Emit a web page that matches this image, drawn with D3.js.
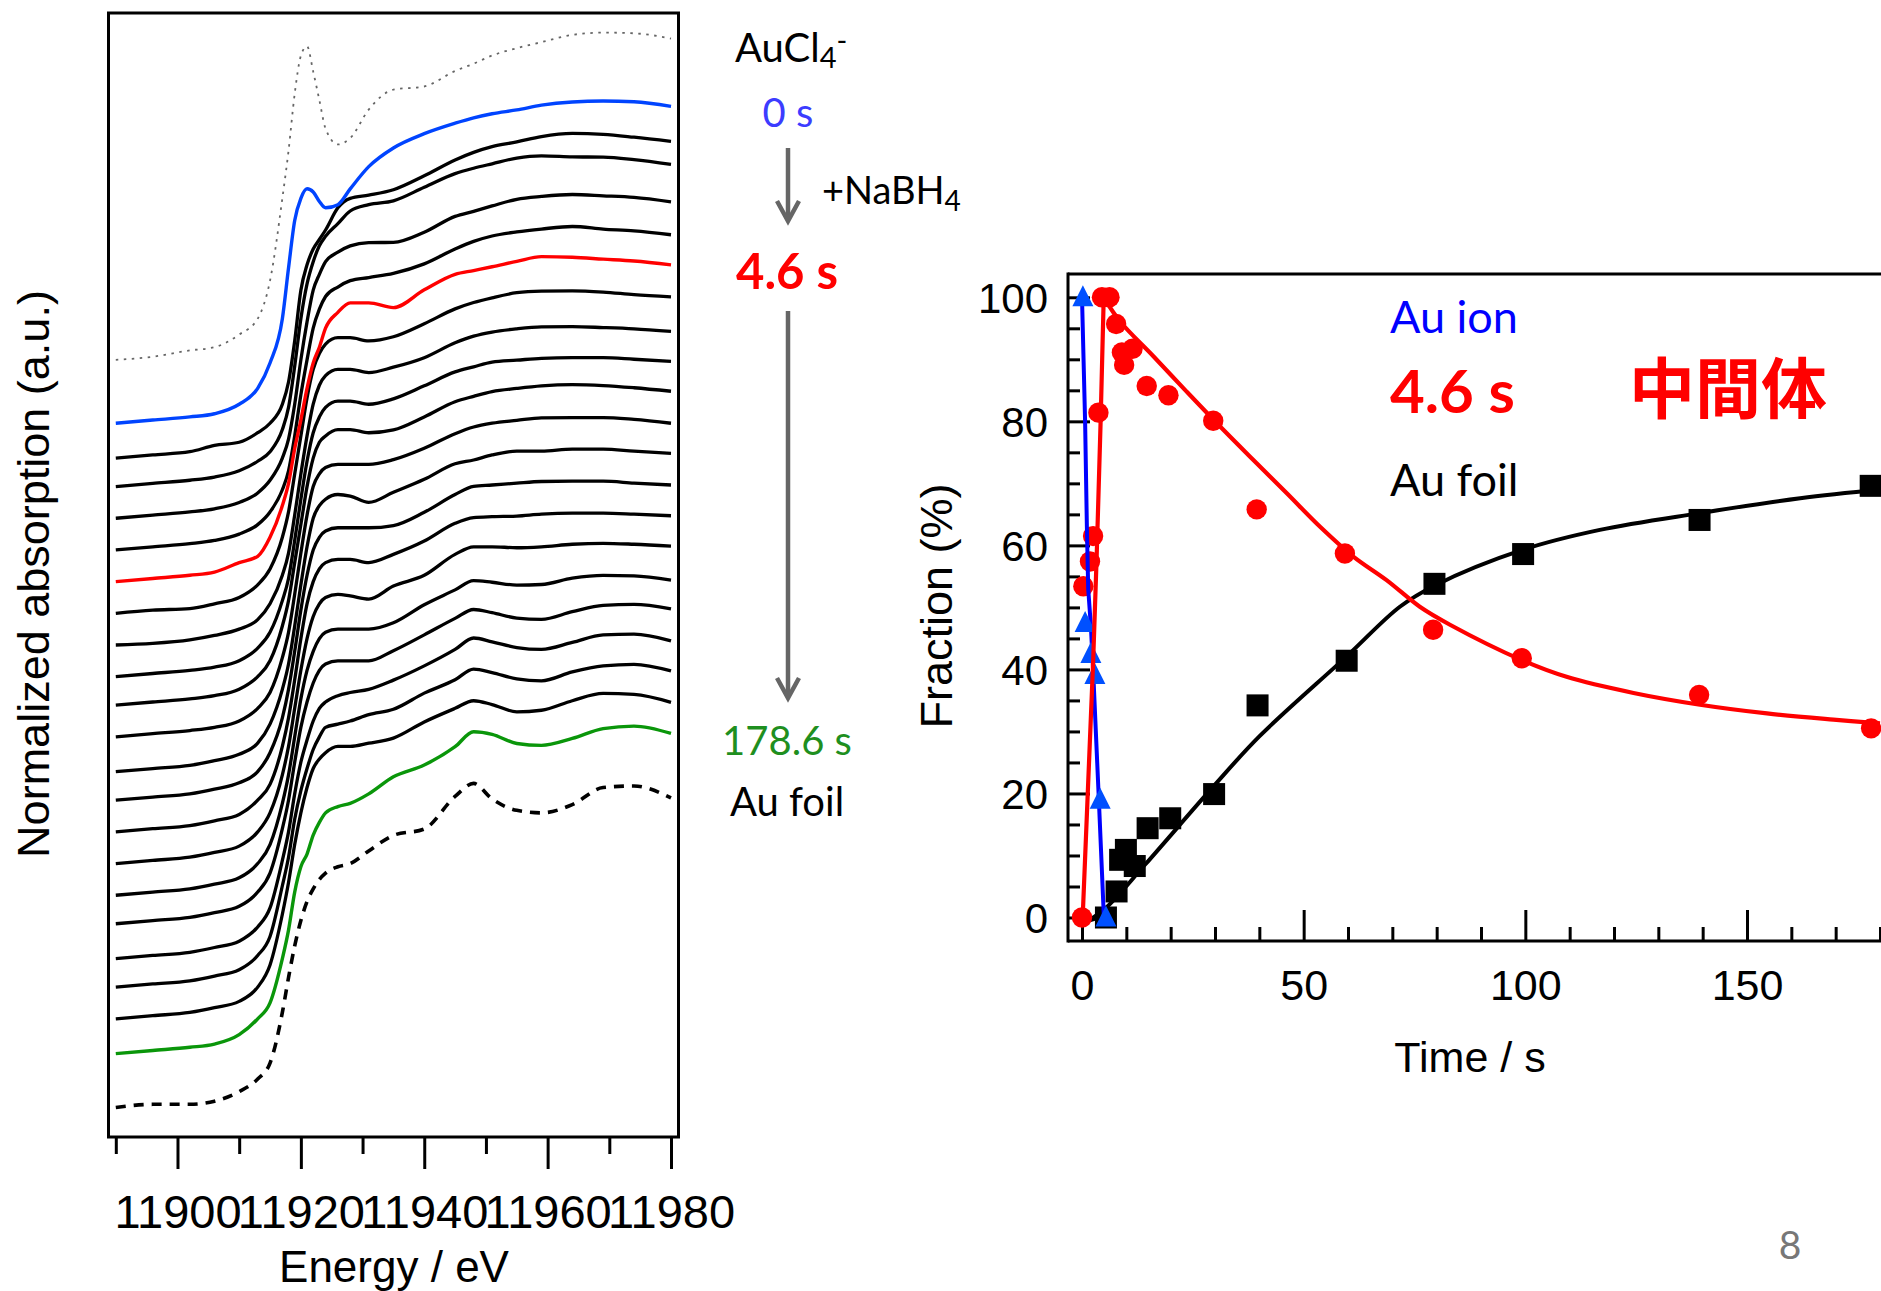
<!DOCTYPE html>
<html>
<head>
<meta charset="utf-8">
<script src="https://cdn.jsdelivr.net/npm/d3@7"></script>
<style>
  html, body { margin: 0; padding: 0; background: #fff; overflow: hidden; }
  svg { display: block; }
</style>
</head>
<body>
<svg id="fig" width="1881" height="1291"></svg>
<script>
// ---------------------------------------------------------------
// Au L3-edge XANES during NaBH4 reduction + species fractions
// ---------------------------------------------------------------

// Energy grid shared by all spectra (eV)
const energy = [11890, 11896, 11902, 11906, 11910, 11913, 11915, 11917, 11918, 11919,
                11920, 11921, 11922, 11923, 11924, 11926, 11928, 11931, 11935, 11940,
                11945, 11948, 11951, 11955, 11959, 11964, 11969, 11974, 11980];

// Normalized absorption of each spectrum (edge jump = 1)
const refAuCl4 = [0, .01, .03, .04, .08, .13, .25, .51, .66, .84, .96, .99, .91, .82, .73, .68, .70, .79, .853, .863, .912, .935, .961, .984, 1.003, 1.026, 1.033, 1.031, 1.014];
const spec00 = [0, .01, .02, .03, .06, .11, .19, .33, .49, .64, .71, .74, .73, .70, .68, .69, .74, .81, .869, .914, .947, .964, .977, .989, 1.004, 1.014, 1.017, 1.015, 1.0];
const spec01 = [0, .01, .02, .04, .05, .08, .11, .17, .24, .37, .53, .61, .66, .69, .72, .79, .82, .83, .847, .891, .941, .965, .983, .998, 1.015, 1.025, 1.022, 1.013, 1.0];
const spec02 = [0, .01, .02, .03, .05, .08, .11, .18, .25, .38, .53, .64, .71, .76, .79, .83, .87, .89, .902, .945, .988, 1.005, 1.019, 1.037, 1.044, 1.041, 1.040, 1.032, 1.017];
const spec03 = [0, .01, .02, .03, .05, .08, .12, .19, .25, .36, .50, .62, .72, .77, .81, .84, .86, .87, .871, .903, .953, .969, .986, 1.007, 1.016, 1.022, 1.018, 1.013, .999];
const spec04 = [0, .01, .02, .03, .05, .08, .12, .19, .25, .36, .49, .60, .70, .76, .80, .83, .85, .86, .873, .903, .950, .974, .991, 1.004, 1.013, 1.021, 1.013, 1.007, .995];
const spec05 = [0, .01, .02, .03, .06, .08, .14, .24, .31, .42, .51, .61, .69, .74, .80, .85, .88, .88, .865, .921, .970, .982, .994, 1.011, 1.026, 1.024, 1.018, 1.012, 1.0];
const spec06 = [0, .01, .015, .03, .05, .09, .14, .24, .32, .44, .56, .68, .77, .82, .85, .87, .87, .86, .873, .914, .961, .981, .996, 1.012, 1.017, 1.018, 1.014, 1.006, .999];
const spec07 = [0, .005, .016, .03, .05, .08, .13, .22, .29, .41, .54, .66, .76, .82, .85, .87, .87, .86, .877, .907, .954, .975, .988, .998, 1.004, 1.005, 1.002, .998, .990];
const spec08 = [0, .01, .02, .03, .05, .09, .14, .24, .31, .43, .56, .68, .77, .82, .85, .87, .87, .86, .877, .918, .962, .978, .993, .999, 1.005, 1.007, 1.007, 1.002, .995];
const spec09 = [0, .01, .02, .03, .05, .09, .14, .25, .33, .45, .57, .69, .78, .83, .85, .87, .87, .86, .869, .910, .958, .975, .990, 1.000, 1.008, 1.012, 1.009, 1.002, .991];
const spec10 = [0, .01, .02, .03, .05, .09, .14, .25, .33, .45, .58, .70, .79, .83, .85, .86, .86, .86, .875, .911, .957, .978, .990, .999, 1.007, 1.008, 1.008, 1.002, .990];
const spec11 = [0, .01, .02, .035, .055, .09, .15, .26, .34, .46, .59, .71, .80, .84, .86, .875, .87, .85, .882, .923, .972, .984, 1.000, 1.012, 1.012, 1.018, 1.018, 1.012, 1.005];
const spec12 = [0, .01, .02, .035, .055, .09, .15, .26, .35, .47, .60, .71, .79, .83, .85, .86, .86, .86, .867, .909, .965, .991, .995, 1.001, 1.006, 1.007, 1.007, 1.001, .995];
const spec13 = [0, .01, .02, .035, .055, .10, .15, .27, .36, .48, .61, .72, .79, .83, .85, .86, .86, .85, .876, .918, .974, .992, .995, .997, 1.003, 1.006, 1.006, 1.003, .998];
const spec14 = [0, .01, .02, .035, .055, .10, .16, .28, .37, .49, .61, .71, .78, .82, .84, .85, .845, .835, .876, .910, .976, 1.000, 1.000, .997, 1.000, 1.008, 1.011, 1.008, 1.002];
const spec15 = [0, .01, .02, .035, .055, .10, .16, .29, .38, .50, .62, .71, .77, .81, .83, .84, .84, .84, .860, .917, .964, .993, .988, .979, .981, 1.001, 1.010, 1.008, .995];
const spec16 = [0, .01, .02, .035, .055, .10, .16, .30, .39, .51, .62, .70, .76, .80, .82, .83, .83, .83, .862, .912, .964, .992, .982, .965, .961, .985, 1.005, 1.008, .994];
const spec17 = [0, .01, .02, .035, .055, .10, .16, .31, .40, .52, .62, .69, .75, .79, .81, .83, .84, .85, .879, .924, .976, 1.012, 1.000, .982, .976, .998, 1.022, 1.024, 1.003];
const spec18 = [0, .01, .02, .035, .055, .10, .16, .32, .41, .53, .62, .69, .75, .79, .82, .83, .84, .86, .877, .928, .970, 1.004, .993, .973, .967, .995, 1.014, 1.019, .998];
const spec19 = [0, .01, .02, .035, .055, .10, .17, .33, .43, .55, .65, .73, .79, .82, .84, .86, .86, .87, .886, .937, .980, 1.004, .992, .969, .974, 1.004, 1.027, 1.024, .999];
const spec20 = [0, .01, .02, .03, .06, .11, .16, .30, .39, .51, .59, .63, .69, .73, .76, .78, .79, .82, .874, .911, .969, 1.016, 1.008, .979, .973, .995, 1.026, 1.034, 1.011];
const refAuFoil = [0, .01, .01, .02, .05, .09, .14, .30, .41, .51, .59, .65, .69, .72, .74, .76, .77, .81, .859, .879, .982, 1.023, .974, .938, .930, .956, 1.010, 1.015, .977];

// Vertical stacking offsets: refAuCl4, spec00 ... spec20, refAuFoil
const stackOffsets = [2.45, 2.25, 2.14, 2.05, 1.95, 1.85, 1.75, 1.65, 1.55, 1.45, 1.36, 1.26,
                      1.15, 1.06, 0.96, 0.86, 0.76, 0.67, 0.56, 0.47, 0.37, 0.26, 0.09];

const energyTicks = [11890, 11900, 11910, 11920, 11930, 11940, 11950, 11960, 11970, 11980];
const energyTickLabels = [11900, 11920, 11940, 11960, 11980];

// ---- species fractions vs time ----
const ionTime = [0.2, 0.7, 2.0, 2.9, 4.1, 5.4];
const ionFrac = [100, 47.5, 42.5, 39.1, 19, 0];
const ionFitTime = [0, 0.7, 1.1, 1.4, 2.0, 2.5, 3.8, 5.0];
const ionFitFrac = [100, 80, 63, 53, 47, 40, 19, -1];

const midTime = [0, 0.3, 1.8, 2.5, 3.7, 4.5, 6.2, 7.7, 9.0, 9.5, 11.4, 14.6, 19.5, 29.6, 39.4, 59.3, 79.2, 99.2, 139.2, 178.0];
const midFrac = [0, 53.4, 57.4, 61.5, 81.4, 100, 100, 95.7, 91.1, 89.1, 91.7, 85.7, 84.2, 80.1, 65.8, 58.7, 46.4, 41.8, 35.9, 30.5];
const midFitTime = [0.15, 2.5, 3.3, 4.2, 4.9, 8.6, 16.1, 23.6, 31.1, 38.6, 46.2, 53.7, 61.2, 68.7, 76.2, 83.0, 99.2, 109.3, 124.4, 139.4, 154.5, 169.5, 180];
const midFitFrac = [0, 41, 58, 80, 100, 96.1, 90.5, 84.8, 79.2, 73.8, 68.4, 63.0, 58.2, 54.4, 50.1, 47.2, 41.5, 38.8, 36.2, 34.3, 32.9, 31.9, 31.3];

const foilTime = [5.4, 7.8, 8.6, 9.9, 11.9, 14.8, 19.9, 29.8, 39.6, 59.7, 79.5, 99.5, 139.3, 177.9];
const foilFrac = [0, 4.2, 9.3, 10.9, 8.3, 14.4, 16.0, 19.9, 34.2, 41.4, 53.8, 58.6, 64.1, 69.6];
const foilFitTime = [5.4, 1.5, 5.6, 14.2, 29.6, 40, 59.7, 71.7, 79.5, 99.5, 116.8, 139.3, 162, 180.2];
const foilFitFrac = [0.3, -0.5, 1.7, 8.5, 21.1, 29.2, 42.1, 50.1, 53.5, 59.3, 62.5, 65.2, 67.6, 69.0];

const timeTicks = [0, 10, 20, 30, 40, 50, 60, 70, 80, 90, 100, 110, 120, 130, 140, 150, 160, 170, 180];
const timeTickLabels = [0, 50, 100, 150];
const fracTicks = [0, 5, 10, 15, 20, 25, 30, 35, 40, 45, 50, 55, 60, 65, 70, 75, 80, 85, 90, 95, 100];
const fracTickLabels = [0, 20, 40, 60, 80, 100];

// ---------------------------------------------------------------
const ARIAL = "'Liberation Sans', Arial, sans-serif";
const SANS = "Lato, 'Open Sans', sans-serif";
const svg = d3.select("#fig");

// =================== left panel ===================
const xE = d3.scaleLinear().domain([11890, 11980]).range([115.8, 671]);
const yA = d3.scaleLinear().domain([0, 3.545]).range([1136, 13]);
const L = svg.append("g");

L.append("rect")
  .attr("x", 108.5).attr("y", 13).attr("width", 570).attr("height", 1124)
  .attr("fill", "none").attr("stroke", "#000").attr("stroke-width", 3);

const eAxis = d3.axisBottom(xE)
  .tickValues(energyTicks)
  .tickSize(30)
  .tickFormat(d => energyTickLabels.includes(d) ? d3.format("d")(d) : "");
const gE = L.append("g").attr("transform", "translate(0,1138)").call(eAxis);
gE.select(".domain").remove();
gE.selectAll(".tick line")
  .attr("stroke", "#000").attr("stroke-width", 3)
  .attr("y2", d => energyTickLabels.includes(d) ? 31 : 16);
gE.selectAll(".tick text")
  .attr("y", 90).attr("dy", 0)
  .attr("font-family", ARIAL).attr("font-size", 47).attr("fill", "#000");

L.append("text")
  .attr("x", 394).attr("y", 1282).attr("text-anchor", "middle")
  .attr("font-family", ARIAL).attr("font-size", 44)
  .text("Energy / eV");
L.append("text")
  .attr("transform", "translate(49,574) rotate(-90)").attr("text-anchor", "middle")
  .attr("font-family", ARIAL).attr("font-size", 45)
  .text("Normalized absorption (a.u.)");

const spectra = [refAuCl4, spec00, spec01, spec02, spec03, spec04, spec05, spec06, spec07,
                 spec08, spec09, spec10, spec11, spec12, spec13, spec14, spec15, spec16,
                 spec17, spec18, spec19, spec20, refAuFoil];
const specStyle = i => {
  if (i === 0) return { stroke: "#666", width: 1.8, dash: "2.5,5.5" };
  if (i === 1) return { stroke: "#0044ff", width: 3.4, dash: null };
  if (i === 6) return { stroke: "#ff0000", width: 3.4, dash: null };
  if (i === 21) return { stroke: "#0a960a", width: 3.4, dash: null };
  if (i === 22) return { stroke: "#000", width: 3.6, dash: "10,8" };
  return { stroke: "#000", width: 3.3, dash: null };
};
const specLine = off => d3.line()
  .x((d, i) => xE(energy[i]))
  .y(d => yA(d + off))
  .curve(d3.curveMonotoneX);

// black traces first, coloured / reference traces on top
const isHighlighted = i => i === 0 || i === 1 || i === 6 || i === 21 || i === 22;
const order = d3.range(spectra.length).sort((a, b) => isHighlighted(a) - isHighlighted(b));
L.append("g").selectAll("path").data(order).join("path")
  .attr("d", i => specLine(stackOffsets[i])(spectra[i]))
  .attr("fill", "none")
  .attr("stroke", i => specStyle(i).stroke)
  .attr("stroke-width", i => specStyle(i).width)
  .attr("stroke-dasharray", i => specStyle(i).dash)
  .attr("stroke-linejoin", "round");

// annotations beside the spectra
const anno = L.append("g").attr("font-family", SANS);
const tAu = anno.append("text").attr("x", 735).attr("y", 62).attr("font-size", 40).attr("fill", "#000");
tAu.append("tspan").text("AuCl");
tAu.append("tspan").attr("font-size", 29).attr("dy", 6).text("4");
tAu.append("tspan").attr("font-size", 29).attr("dy", -17).text("-");

anno.append("text").attr("x", 788).attr("y", 127).attr("text-anchor", "middle")
  .attr("font-size", 40).attr("fill", "#3c3cff").text("0 s");

const tNa = anno.append("text").attr("x", 822).attr("y", 204).attr("font-size", 38).attr("fill", "#000");
tNa.append("tspan").text("+NaBH");
tNa.append("tspan").attr("font-size", 28).attr("dy", 7).text("4");

anno.append("text").attr("x", 787).attr("y", 289).attr("text-anchor", "middle")
  .attr("font-size", 49).attr("font-weight", "bold").attr("fill", "#ff0000").text("4.6 s");
anno.append("text").attr("x", 787).attr("y", 755).attr("text-anchor", "middle")
  .attr("font-size", 40).attr("fill", "#1f8f1f").text("178.6 s");
anno.append("text").attr("x", 787).attr("y", 816).attr("text-anchor", "middle")
  .attr("font-size", 40).attr("fill", "#000").text("Au foil");

const arrows = [[148, 221], [311, 698]];
const ag = anno.append("g").attr("stroke", "#666").attr("stroke-width", 4.5).attr("fill", "none");
arrows.forEach(([y0, y1]) => {
  ag.append("line").attr("x1", 788).attr("x2", 788).attr("y1", y0).attr("y2", y1 - 1);
  ag.append("path").attr("d", `M777,${y1 - 20} L788,${y1} L799,${y1 - 20}`)
    .attr("stroke-linejoin", "miter");
});

// =================== right panel ===================
const xT = d3.scaleLinear().domain([0, 180]).range([1082, 1880]);
const yF = d3.scaleLinear().domain([0, 100]).range([917.5, 297.3]);
const R = svg.append("g");
const axisX0 = 1068, axisY0 = 941, topY = 274;

R.append("line").attr("x1", axisX0).attr("x2", 1881).attr("y1", topY).attr("y2", topY)
  .attr("stroke", "#000").attr("stroke-width", 3);
R.append("line").attr("x1", axisX0).attr("x2", 1881).attr("y1", axisY0).attr("y2", axisY0)
  .attr("stroke", "#000").attr("stroke-width", 3);
R.append("line").attr("x1", axisX0).attr("x2", axisX0).attr("y1", topY - 1.5).attr("y2", axisY0 + 1.5)
  .attr("stroke", "#000").attr("stroke-width", 3);

// y ticks point inward
const yAx = d3.axisRight(yF).tickValues(fracTicks).tickSize(12).tickFormat("");
const gY = R.append("g").attr("transform", `translate(${axisX0},0)`).call(yAx);
gY.select(".domain").remove();
gY.selectAll(".tick line").attr("stroke", "#000").attr("stroke-width", 3)
  .attr("x2", d => fracTickLabels.includes(d) ? 22 : 12);
const yLab = d3.axisLeft(yF).tickValues(fracTickLabels).tickSize(0).tickPadding(20);
const gYL = R.append("g").attr("transform", `translate(${axisX0},0)`).call(yLab);
gYL.select(".domain").remove();
gYL.selectAll(".tick text").attr("font-family", ARIAL).attr("font-size", 42).attr("fill", "#000").attr("dy", "0.36em");

// x ticks point inward
const xAx = d3.axisTop(xT).tickValues(timeTicks).tickSize(14).tickFormat("");
const gX = R.append("g").attr("transform", `translate(0,${axisY0})`).call(xAx);
gX.select(".domain").remove();
gX.selectAll(".tick line").attr("stroke", "#000").attr("stroke-width", 3)
  .attr("y2", d => timeTickLabels.includes(d) ? -31 : -14);
const xLab = d3.axisBottom(xT).tickValues(timeTickLabels).tickSize(0).tickFormat(d3.format("d"));
const gXL = R.append("g").attr("transform", `translate(0,${axisY0})`).call(xLab);
gXL.select(".domain").remove();
gXL.selectAll(".tick text").attr("font-family", ARIAL).attr("font-size", 43).attr("fill", "#000")
  .attr("y", 59).attr("dy", 0);

R.append("text").attr("x", 1470).attr("y", 1072).attr("text-anchor", "middle")
  .attr("font-family", ARIAL).attr("font-size", 43).text("Time / s");
R.append("text").attr("transform", "translate(952,606) rotate(-90)").attr("text-anchor", "middle")
  .attr("font-family", ARIAL).attr("font-size", 45).text("Fraction (%)");

const plot = R.append("g");
const zipPts = (ts, vs) => ts.map((t, i) => [t, vs[i]]);
const linearLine = d3.line().x(d => xT(d[0])).y(d => yF(d[1]));
const smoothLine = d3.line().x(d => xT(d[0])).y(d => yF(d[1])).curve(d3.curveCatmullRom.alpha(0.5));

// Au foil fit: short initial hook, then a smooth curve
const foilFit = zipPts(foilFitTime, foilFitFrac);
const foilStroke = sel => sel.attr("fill", "none").attr("stroke", "#000").attr("stroke-width", 4)
  .attr("stroke-linejoin", "round");
plot.append("path").attr("d", linearLine(foilFit.slice(0, 2))).call(foilStroke);
plot.append("path").attr("d", smoothLine(foilFit.slice(1))).call(foilStroke);
plot.append("g").selectAll("rect").data(zipPts(foilTime, foilFrac)).join("rect")
  .attr("x", d => xT(d[0]) - 11).attr("y", d => yF(d[1]) - 11)
  .attr("width", 22).attr("height", 22).attr("fill", "#000");

// intermediate circles
plot.append("g").selectAll("circle").data(zipPts(midTime, midFrac)).join("circle")
  .attr("cx", d => xT(d[0])).attr("cy", d => yF(d[1])).attr("r", 10.2).attr("fill", "#ff0000");

// Au ion fit + triangles
plot.append("path").attr("d", linearLine(zipPts(ionFitTime, ionFitFrac)))
  .attr("fill", "none").attr("stroke", "#0000ff").attr("stroke-width", 4).attr("stroke-linejoin", "round");
plot.append("g").selectAll("path").data(zipPts(ionTime, ionFrac)).join("path")
  .attr("d", d => {
    const x = xT(d[0]), y = yF(d[1]);
    return `M${x},${y - 12} L${x + 10.5},${y + 9} L${x - 10.5},${y + 9} Z`;
  })
  .attr("fill", "#0050ff");

// intermediate fit on top
const midFit = zipPts(midFitTime, midFitFrac);
plot.append("path").attr("d", linearLine(midFit.slice(0, 5)))
  .attr("fill", "none").attr("stroke", "#ff0000").attr("stroke-width", 4.2).attr("stroke-linejoin", "round");
plot.append("path").attr("d", smoothLine(midFit.slice(4)))
  .attr("fill", "none").attr("stroke", "#ff0000").attr("stroke-width", 4.2).attr("stroke-linejoin", "round");

// in-plot labels
const lg = R.append("g").attr("font-family", SANS);
lg.append("text").attr("x", 1390).attr("y", 333).attr("font-size", 45).attr("fill", "#0000ff").text("Au ion");
lg.append("text").attr("x", 1390).attr("y", 413).attr("font-size", 60).attr("font-weight", "bold").attr("fill", "#ff0000").text("4.6 s");
lg.append("text").attr("x", 1629).attr("y", 413).attr("font-size", 66).attr("font-weight", "bold")
  .attr("font-family", "'Noto Sans CJK JP', 'Noto Sans CJK SC', sans-serif").attr("fill", "#ff0000").text("中間体");
lg.append("text").attr("x", 1390).attr("y", 496).attr("font-size", 45).attr("fill", "#000").text("Au foil");

// page number
svg.append("text").attr("x", 1790).attr("y", 1259).attr("text-anchor", "middle")
  .attr("font-family", SANS).attr("font-size", 39).attr("fill", "#777").text("8");
</script>
</body>
</html>
